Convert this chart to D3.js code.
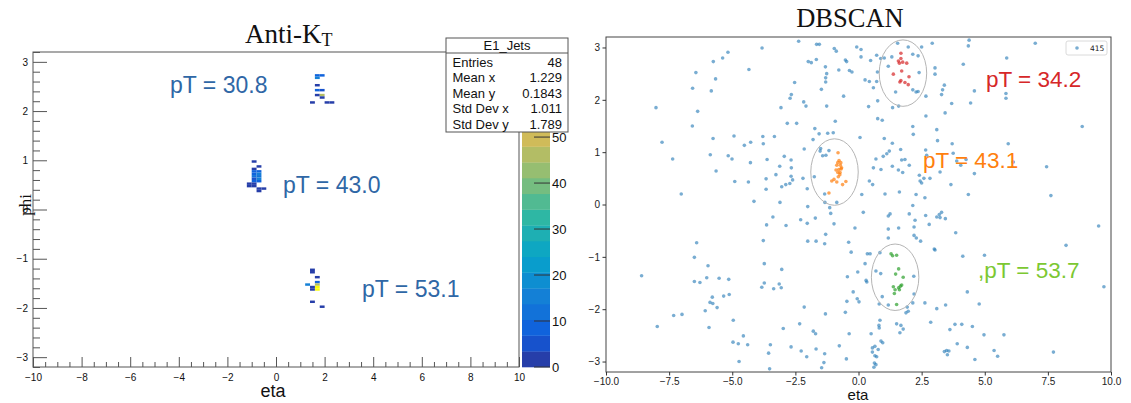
<!DOCTYPE html>
<html>
<head>
<meta charset="utf-8">
<script src="https://cdn.jsdelivr.net/npm/d3@7"></script>
<style>
  body { margin: 0; background: #fff; }
  svg { display: block; }
</style>
</head>
<body>
<svg id="chart" width="1131" height="403"></svg>
<script>
// ---------- Anti-kT: 2D histogram (eta bin low edge, phi bin low edge, content) ----------
const jetCells = [
  // jet near phi 2.5
  [1.6, 2.70, 9], [1.8, 2.70, 7], [1.6, 2.65, 14], [1.6, 2.50, 2], [1.6, 2.40, 8], [1.8, 2.40, 4],
  [1.6, 2.30, 2], [1.8, 2.30, 47], [1.8, 2.25, 3], [1.4, 2.15, 2], [2.0, 2.15, 3], [2.2, 2.15, 2],
  // jet near phi 0.6
  [-1.0, 0.95, 2], [-0.8, 0.85, 2], [-1.0, 0.80, 3], [-1.0, 0.75, 8], [-0.8, 0.75, 10], [-1.0, 0.70, 9],
  [-0.8, 0.70, 15], [-1.0, 0.65, 11], [-0.8, 0.65, 13], [-1.0, 0.60, 6], [-0.8, 0.60, 17], [-1.0, 0.55, 10],
  [-0.8, 0.55, 7], [-1.2, 0.50, 2], [-1.0, 0.50, 3], [-1.2, 0.45, 3], [-1.0, 0.45, 2], [-0.8, 0.40, 2],
  [-0.6, 0.40, 3], [-0.8, 0.35, 2],
  // jet near phi -1.6
  [1.4, -1.25, 2], [1.4, -1.30, 3], [1.6, -1.40, 3], [1.6, -1.50, 9], [1.6, -1.55, 46], [1.6, -1.60, 67],
  [1.6, -1.65, 66], [1.2, -1.55, 16], [1.4, -1.60, 3], [1.4, -1.65, 2], [1.4, -1.90, 2], [1.8, -2.00, 2]
];
const etaBinWidth = 0.2;
const phiBinWidth = 0.05;
const zMax = 68.5;
const nContours = 20;
const paletteTicks = [0, 10, 20, 30, 40, 50];

const statNames = ["Entries", "Mean x", "Mean y", "Std Dev x", "Std Dev y"];
const statValues = ["48", "1.229", "0.1843", "1.011", "1.789"];

const ktLabels = ["pT = 30.8", "pT = 43.0", "pT = 53.1"];
const ktLabelEta = [-4.36, 0.29, 3.54];
const ktLabelPhi = [2.37, 0.33, -1.78];

// ---------- DBSCAN scatter ----------
const noisePoints = [
  [-8.02,1.85],[-7.78,1.19],[-7.36,0.87],[-7.02,0.20],[-6.58,1.50],[-6.57,2.22],[-6.44,2.52],[-6.37,1.78],
  [-5.87,0.95],[-5.83,2.17],[-5.76,1.26],[-5.75,2.73],[-5.66,2.40],[-5.64,0.64],[-5.38,2.80],[-5.17,2.91],
  [-5.16,0.93],[-5.01,0.87],[-4.93,1.31],[-4.90,0.44],[-4.52,1.13],[-4.36,0.43],[-4.34,2.58],[-4.28,0.80],
  [-4.27,1.19],[-4.14,0.06],[-3.82,2.99],[-3.79,1.30],[-3.77,1.16],[-3.66,0.49],[-3.66,0.29],[-3.62,0.86],
  [-3.33,1.30],[-3.27,0.57],[-3.12,0.73],[-3.11,0.04],[-3.07,1.85],[-3.04,0.34],[-2.94,0.92],[-2.88,0.38],
  [-2.82,1.55],[-2.72,0.40],[-2.71,2.03],[-2.67,0.54],[-2.66,2.10],[-2.66,0.70],[-2.67,0.85],[-2.61,0.47],
  [-2.53,2.33],[-2.45,1.55],[-2.37,3.12],[-2.20,0.50],[-2.17,1.96],[-2.15,1.06],[-2.08,1.88],[-2.03,0.30],
  [-2.01,-0.04],[-1.99,2.73],[-1.87,2.71],[-1.80,1.24],[-1.75,0.53],[-1.73,1.45],[-1.67,2.77],[-1.66,3.06],
  [-1.55,3.06],[-1.56,1.35],[-1.50,1.07],[-1.52,1.02],[-1.47,2.20],[-1.42,0.93],[-1.34,0.20],[-1.31,2.63],
  [-1.30,2.42],[-1.30,2.34],[-1.26,2.50],[-1.26,1.88],[-1.29,0.94],[-1.22,1.36],[-1.17,1.03],[-1.00,1.37],
  [-0.96,2.98],[-0.92,1.59],[-0.88,2.93],[-0.78,2.57],[-0.59,2.07],[-0.52,2.76],[-0.47,2.73],[-0.86,0.04],
  [-1.33,0.04],[-1.14,-0.06],
  [-0.07,3.01],[0.10,2.96],[-0.36,2.56],[-0.26,2.53],[0.10,2.82],[0.48,2.75],[0.72,2.85],[0.26,2.38],
  [0.43,2.35],[0.59,2.23],[0.72,2.35],[0.75,2.53],[0.88,2.79],[1.02,2.80],[1.18,2.64],[1.32,2.82],
  [1.55,3.08],[1.97,3.01],[2.15,2.87],[2.36,2.84],[2.50,3.01],[2.40,2.52],[2.15,2.19],[2.28,2.15],
  [2.36,2.16],[1.47,2.15],[3.03,2.61],[3.03,2.49],[2.92,3.08],[2.67,2.07],[3.40,2.28],[3.33,2.19],
  [3.29,2.10],[4.15,2.68],[4.35,3.03],[4.38,3.14],[4.59,2.17],[4.44,1.94],[5.84,2.12],[5.84,2.03],
  [5.87,2.80],[7.00,3.08],[8.86,1.49],[0.40,1.87],[0.76,1.98],[1.35,1.85],[1.59,1.88],[2.67,1.69],
  [3.43,1.75],[3.69,1.93],[0.76,1.64],[0.94,1.61],[2.15,1.49],[2.17,1.34],[3.10,1.43],[0.06,1.28],
  [1.02,1.26],[1.34,1.17],[3.13,1.22],[3.71,1.16],[5.93,1.16],[1.22,1.02],[1.12,0.97],[0.98,0.92],
  [1.67,1.05],[2.66,1.04],[2.70,0.94],[3.75,0.98],[0.69,0.87],[1.71,0.85],[1.84,0.86],[2.01,0.75],
  [1.34,0.73],[0.59,0.70],[0.89,0.67],[1.58,0.66],[1.75,0.61],[2.41,0.56],[2.44,0.45],[2.59,0.50],
  [2.50,0.41],[2.83,0.50],[3.23,0.62],[3.89,0.83],[4.05,0.75],[4.26,0.86],[6.13,0.81],[7.45,0.72],
  [4.59,0.59],[3.66,0.38],[0.43,0.45],[0.56,0.38],[0.13,0.19],[1.05,0.20],[1.62,0.24],[2.28,0.19],
  [2.63,0.13],[4.35,0.19],[2.15,-0.02],[7.62,0.17],
  [-8.59,-1.36],[-7.97,-2.33],[-7.32,-2.12],[-6.99,-2.10],[-6.50,-1.01],[-6.41,-0.73],[-6.50,-1.47],[-6.28,-1.49],
  [-5.96,-1.17],[-6.01,-1.40],[-5.79,-1.77],[-5.88,-1.87],[-5.77,-1.89],[-6.07,-2.03],[-5.60,-1.97],[-5.52,-1.41],
  [-5.34,-1.75],[-5.14,-1.43],[-5.12,-1.72],[-5.92,-2.35],[-4.96,-2.21],[-4.97,-2.63],[-4.76,-2.66],[-4.73,-3.00],
  [-4.56,-2.51],[-4.39,-2.68],[-3.77,-0.69],[-3.73,-1.13],[-3.64,-0.39],[-3.83,-1.58],[-3.73,-1.50],[-3.39,-0.24],
  [-3.36,-1.61],[-3.14,-1.52],[-3.06,-1.59],[-3.04,-1.24],[-2.87,-0.40],[-2.98,-2.37],[-3.56,-2.84],[-3.49,-2.68],
  [-3.52,-3.14],[-2.67,-2.72],[-2.33,-2.28],[-2.29,-0.29],[-2.27,-2.80],[-2.15,-1.96],[-2.05,-2.91],[-2.03,-0.36],
  [-2.01,-0.70],[-1.79,-2.42],[-1.70,-2.47],[-1.71,-0.26],[-1.68,-0.70],[-1.68,-2.76],[-1.46,-3.12],[-1.37,-3.02],
  [-1.34,-2.85],[-1.34,-0.75],[-1.30,-0.57],[-1.31,-2.09],[-1.10,-0.17],[-0.97,-0.37],[-0.76,-2.70],[-0.52,-2.06],
  [-0.48,-2.95],[-0.44,-1.38],[-0.46,-1.85],[-0.39,-0.72],[-0.37,-2.47],
  [0.19,-0.15],[1.25,-0.18],[1.18,-0.22],[2.01,-0.18],[2.24,-0.30],[2.66,-0.21],[2.80,-0.38],[3.10,-0.24],
  [3.20,-0.19],[3.23,-0.25],[3.29,-0.15],[3.44,-0.27],[-0.14,-0.45],[1.18,-0.47],[1.59,-0.45],[2.20,-0.43],
  [2.20,-0.59],[2.29,-0.64],[2.46,-0.70],[1.18,-0.64],[3.85,-0.54],[9.51,-0.41],[3.00,-0.85],[3.03,-0.87],
  [8.22,-0.78],[-0.29,-0.91],[0.35,-0.94],[0.46,-0.94],[0.85,-0.92],[4.13,-0.99],[4.99,-0.97],[0.26,-1.13],
  [-0.03,-1.29],[0.69,-1.27],[0.88,-1.32],[0.30,-1.45],[0.33,-1.48],[2.19,-1.37],[-0.21,-1.67],[-0.05,-1.80],
  [0.02,-1.86],[0.94,-1.76],[1.18,-1.92],[0.82,-1.90],[1.93,-1.96],[1.88,-2.07],[1.97,-2.04],[2.15,-1.88],
  [2.20,-1.71],[2.63,-1.88],[3.10,-1.99],[3.45,-1.92],[4.31,-1.67],[4.78,-1.90],[9.72,-1.57],[0.85,-2.21],
  [0.81,-2.31],[0.82,-2.36],[1.51,-2.28],[1.68,-2.31],[1.77,-2.38],[1.64,-2.45],[2.86,-2.25],[3.62,-2.39],
  [3.82,-2.29],[4.09,-2.29],[4.51,-2.33],[0.50,-2.47],[4.97,-2.49],[5.76,-2.49],[0.89,-2.61],[0.96,-2.64],
  [0.65,-2.71],[0.55,-2.74],[0.78,-2.77],[0.55,-2.82],[3.91,-2.66],[4.31,-2.73],[3.40,-2.81],[3.49,-2.79],
  [3.58,-2.80],[3.52,-2.87],[5.37,-2.79],[5.51,-2.90],[7.72,-2.82],[0.65,-2.89],[0.72,-2.91],[0.63,-3.03],
  [0.69,-3.06],[0.61,-3.11],[4.61,-2.96]
];
const redCluster = [
  [1.68,2.89],[1.58,2.74],[1.68,2.79],[1.62,2.70],[1.75,2.72],[1.91,2.70],[1.38,2.49],
  [1.71,2.55],[2.00,2.44],[1.64,2.34],[1.84,2.33],[1.97,2.29],[1.68,2.37]
];
const orangeCluster = [
  [-0.81,0.99],[-0.77,0.84],[-0.82,0.80],[-0.86,0.75],[-0.72,0.75],[-0.89,0.66],[-0.78,0.67],
  [-0.69,0.68],[-0.82,0.61],[-0.74,0.57],[-0.80,0.53],[-0.97,0.48],[-1.06,0.45],[-0.86,0.43],
  [-0.63,0.38],[-0.50,0.44],[-1.17,0.22],[-0.70,0.80],[-0.67,0.70],[-0.73,0.61]
];
const greenCluster = [
  [1.29,-0.94],[1.35,-0.98],[1.51,-0.97],[1.59,-1.23],[1.47,-1.33],[1.77,-1.39],[1.38,-1.57],
  [1.45,-1.63],[1.59,-1.59],[1.66,-1.56],[1.71,-1.54],[1.62,-1.63],[1.42,-1.70],[1.51,-1.91]
];
// cluster outlines: centre eta, centre phi
const ringEta = [1.76, -0.95, 1.45];
const ringPhi = [2.51, 0.62, -1.39];
const ringHalfEta = 0.94;
const ringHalfPhi = 0.635;

const dbLabels = ["pT = 34.2", "pT = 43.1", ",pT = 53.7"];
const dbLabelEta = [5.05, 2.55, 4.73];
const dbLabelPhi = [2.24, 0.70, -1.40];
const legendLabel = "415";

const dbXTicks = [-10, -7.5, -5, -2.5, 0, 2.5, 5, 7.5, 10];
const dbYTicks = [-3, -2, -1, 0, 1, 2, 3];

// ---------- drawing ----------
const svg = d3.select("#chart");
const sans = "'Liberation Sans', Arial, Helvetica, sans-serif";
const serif = "'Liberation Serif', 'Times New Roman', serif";
const mplFont = "'DejaVu Sans', sans-serif";
const intFmt = d3.format("d");

// ROOT kBird palette
const birdR = [0.2082, 0.0592, 0.0780, 0.0232, 0.1802, 0.5301, 0.8186, 0.9956, 0.9764];
const birdG = [0.1664, 0.3599, 0.5041, 0.6419, 0.7178, 0.7492, 0.7328, 0.7862, 0.9832];
const birdB = [0.5293, 0.8684, 0.8385, 0.7914, 0.6425, 0.4662, 0.3499, 0.1968, 0.0539];
const birdStops = d3.range(9).map(i => i / 8);
const bird = d3.scaleLinear()
  .domain(birdStops)
  .range(birdStops.map((_, i) => d3.rgb(birdR[i] * 255, birdG[i] * 255, birdB[i] * 255)))
  .interpolate(d3.interpolateRgb);
const step = zMax / nContours;
const bandColor = k => bird(Math.min(1, (k + 0.99) / nContours));
const cellColor = v => bandColor(Math.min(nContours - 1, Math.floor(v / step)));

// ===== Left panel =====
const xL = d3.scaleLinear().domain([-10, 10]).range([33, 519]);
const yL = d3.scaleLinear().domain([-3.2, 3.2]).range([367, 52]);

svg.append("text")
  .attr("x", 245).attr("y", 43)
  .attr("font-family", serif).attr("font-size", 27).attr("fill", "#111")
  .text("Anti-K")
  .append("tspan").attr("font-size", 18).attr("dy", 3).text("T");

svg.append("g").selectAll("rect").data(jetCells).join("rect")
  .attr("x", d => xL(d[0]))
  .attr("width", d => xL(d[0] + etaBinWidth) - xL(d[0]))
  .attr("y", d => yL(d[1] + phiBinWidth))
  .attr("height", d => yL(d[1]) - yL(d[1] + phiBinWidth))
  .attr("fill", d => cellColor(d[2]));

// frame
svg.append("rect")
  .attr("x", xL(-10)).attr("y", yL(3.2))
  .attr("width", xL(10) - xL(-10)).attr("height", yL(-3.2) - yL(3.2))
  .attr("fill", "none").attr("stroke", "#555").attr("stroke-width", 1);

function rootAxis(g) {
  g.select(".domain").remove();
  g.selectAll(".tick line").attr("stroke", "#555");
  g.selectAll(".tick text").attr("fill", "#111");
}
const xMinor = d3.range(-20, 21).map(i => i * 0.5).filter(v => Math.abs(v % 2) > 1e-9);
const yMinor = d3.range(-16, 17).map(i => i * 0.2).filter(v => Math.abs(v - Math.round(v)) > 1e-9);

svg.append("g").attr("transform", `translate(0,${yL(-3.2)})`)
  .attr("font-family", sans).attr("font-size", 11.5)
  .call(d3.axisBottom(xL).tickValues(d3.range(-10, 11, 2)).tickFormat(intFmt)
    .tickSizeInner(-10).tickSizeOuter(0).tickPadding(6.5))
  .call(rootAxis);
svg.append("g").attr("transform", `translate(0,${yL(-3.2)})`)
  .call(d3.axisBottom(xL).tickValues(xMinor).tickSizeInner(-5).tickSizeOuter(0).tickFormat(""))
  .call(rootAxis);
svg.append("g").attr("transform", `translate(${xL(-10)},0)`)
  .attr("font-family", sans).attr("font-size", 11.5)
  .call(d3.axisLeft(yL).tickValues(d3.range(-3, 4)).tickFormat(intFmt)
    .tickSizeInner(-14).tickSizeOuter(0).tickPadding(5))
  .call(rootAxis);
svg.append("g").attr("transform", `translate(${xL(-10)},0)`)
  .call(d3.axisLeft(yL).tickValues(yMinor).tickSizeInner(-7).tickSizeOuter(0).tickFormat(""))
  .call(rootAxis);

svg.append("text").attr("x", 273).attr("y", 397).attr("text-anchor", "middle")
  .attr("font-family", sans).attr("font-size", 18).attr("fill", "#111").text("eta");
svg.append("text").attr("transform", "translate(31,205) rotate(-90)").attr("text-anchor", "middle")
  .attr("font-family", serif).attr("font-size", 17).attr("fill", "#111").text("phi");

svg.append("g").selectAll("text").data(ktLabels).join("text")
  .attr("x", (d, i) => xL(ktLabelEta[i]))
  .attr("y", (d, i) => yL(ktLabelPhi[i]))
  .attr("font-family", sans).attr("font-size", 23).attr("fill", "#2f67a6")
  .text(d => d);

// palette
const yC = d3.scaleLinear().domain([0, zMax]).range([367, 52]);
const pal = svg.append("g");
pal.selectAll("rect").data(d3.range(nContours)).join("rect")
  .attr("x", 522).attr("width", 28)
  .attr("y", k => yC((k + 1) * step))
  .attr("height", k => yC(k * step) - yC((k + 1) * step) + 0.3)
  .attr("fill", k => bandColor(k));
pal.selectAll("line").data(paletteTicks).join("line")
  .attr("x1", 534).attr("x2", 550)
  .attr("y1", d => yC(d)).attr("y2", d => yC(d))
  .attr("stroke", "#333").attr("stroke-width", 1);
pal.selectAll("text").data(paletteTicks).join("text")
  .attr("x", 552).attr("y", d => yC(d)).attr("dy", "0.36em")
  .attr("font-family", sans).attr("font-size", 13).attr("fill", "#111")
  .text(d => d);

// statistics box
const stats = svg.append("g");
stats.append("rect").attr("x", 446).attr("y", 38).attr("width", 122).attr("height", 94)
  .attr("fill", "#fff").attr("stroke", "#555").attr("stroke-width", 1);
stats.append("line").attr("x1", 446).attr("x2", 568).attr("y1", 53).attr("y2", 53)
  .attr("stroke", "#555").attr("stroke-width", 1);
stats.append("text").attr("x", 507).attr("y", 49.5).attr("text-anchor", "middle")
  .attr("font-family", sans).attr("font-size", 13).attr("fill", "#111").text("E1_Jets");
stats.selectAll("text.name").data(statNames).join("text").attr("class", "name")
  .attr("x", 452.5).attr("y", (d, i) => 66.5 + i * 15.5)
  .attr("font-family", sans).attr("font-size", 13).attr("fill", "#111").text(d => d);
stats.selectAll("text.val").data(statValues).join("text").attr("class", "val")
  .attr("x", 562).attr("y", (d, i) => 66.5 + i * 15.5).attr("text-anchor", "end")
  .attr("font-family", sans).attr("font-size", 13).attr("fill", "#111").text(d => d);

// ===== Right panel =====
const xR = d3.scaleLinear().domain([-10, 10]).range([606, 1111]);
const yR = d3.scaleLinear().domain([-3.2, 3.2]).range([372, 37]);

svg.append("text").attr("x", 850).attr("y", 27).attr("text-anchor", "middle")
  .attr("font-family", serif).attr("font-size", 26.5).attr("fill", "#111").text("DBSCAN");

const plot = svg.append("g");
function dots(data, color, opacity) {
  plot.append("g").selectAll("circle").data(data).join("circle")
    .attr("cx", d => xR(d[0])).attr("cy", d => yR(d[1])).attr("r", 1.8)
    .attr("fill", color).attr("fill-opacity", opacity);
}
dots(noisePoints, "#1f77b4", 0.6);
dots(redCluster, "#d62728", 0.7);
dots(orangeCluster, "#ff7f0e", 0.7);
dots(greenCluster, "#2ca02c", 0.7);

plot.append("g").selectAll("ellipse").data(ringEta).join("ellipse")
  .attr("cx", (d, i) => xR(d)).attr("cy", (d, i) => yR(ringPhi[i]))
  .attr("rx", d => xR(d + ringHalfEta) - xR(d))
  .attr("ry", (d, i) => yR(ringPhi[i] - ringHalfPhi) - yR(ringPhi[i]))
  .attr("fill", "none").attr("stroke", "#b5b5b5").attr("stroke-width", 1);

const dbColors = ["#d62728", "#ff7f0e", "#7cc832"];
plot.append("g").selectAll("text").data(dbLabels).join("text")
  .attr("x", (d, i) => xR(dbLabelEta[i])).attr("y", (d, i) => yR(dbLabelPhi[i]))
  .attr("font-family", sans).attr("font-size", 22.5).attr("fill", (d, i) => dbColors[i])
  .text(d => d);

svg.append("rect").attr("x", 606).attr("y", 37).attr("width", 505).attr("height", 335)
  .attr("fill", "none").attr("stroke", "#444").attr("stroke-width", 1);

function mplAxis(g) {
  g.select(".domain").remove();
  g.selectAll(".tick line").attr("stroke", "#333");
  g.selectAll(".tick text").attr("fill", "#222");
}
svg.append("g").attr("transform", `translate(0,${yR(-3.2)})`)
  .attr("font-family", mplFont).attr("font-size", 7.5)
  .call(d3.axisBottom(xR).tickValues(dbXTicks).tickFormat(d3.format(".1f")).tickSize(3.5).tickPadding(2.5))
  .call(mplAxis);
svg.append("g").attr("transform", `translate(${xR(-10)},0)`)
  .attr("font-family", mplFont).attr("font-size", 7.5)
  .call(d3.axisLeft(yR).tickValues(dbYTicks).tickFormat(intFmt).tickSize(3.5).tickPadding(2.5))
  .call(mplAxis);

svg.append("text").attr("x", 858).attr("y", 399.8).attr("text-anchor", "middle")
  .attr("font-family", sans).attr("font-size", 15).attr("fill", "#111").text("eta");

svg.append("clipPath").attr("id", "phiClip")
  .append("rect").attr("x", 579).attr("y", 180).attr("width", 14).attr("height", 50);
svg.append("text").attr("clip-path", "url(#phiClip)")
  .attr("transform", "translate(587,206) rotate(-90)").attr("text-anchor", "middle")
  .attr("font-family", mplFont).attr("font-size", 13).attr("fill", "#222").text("phi");

// legend
const leg = svg.append("g");
leg.append("rect").attr("x", 1066).attr("y", 41).attr("width", 41).attr("height", 14).attr("rx", 2)
  .attr("fill", "#fff").attr("stroke", "#d0d0d0").attr("stroke-width", 0.8);
leg.append("circle").attr("cx", 1077).attr("cy", 48).attr("r", 1.8)
  .attr("fill", "#1f77b4").attr("fill-opacity", 0.6);
leg.append("text").attr("x", 1090).attr("y", 50.7)
  .attr("font-family", mplFont).attr("font-size", 7.5).attr("fill", "#222").text(legendLabel);
</script>
</body>
</html>
